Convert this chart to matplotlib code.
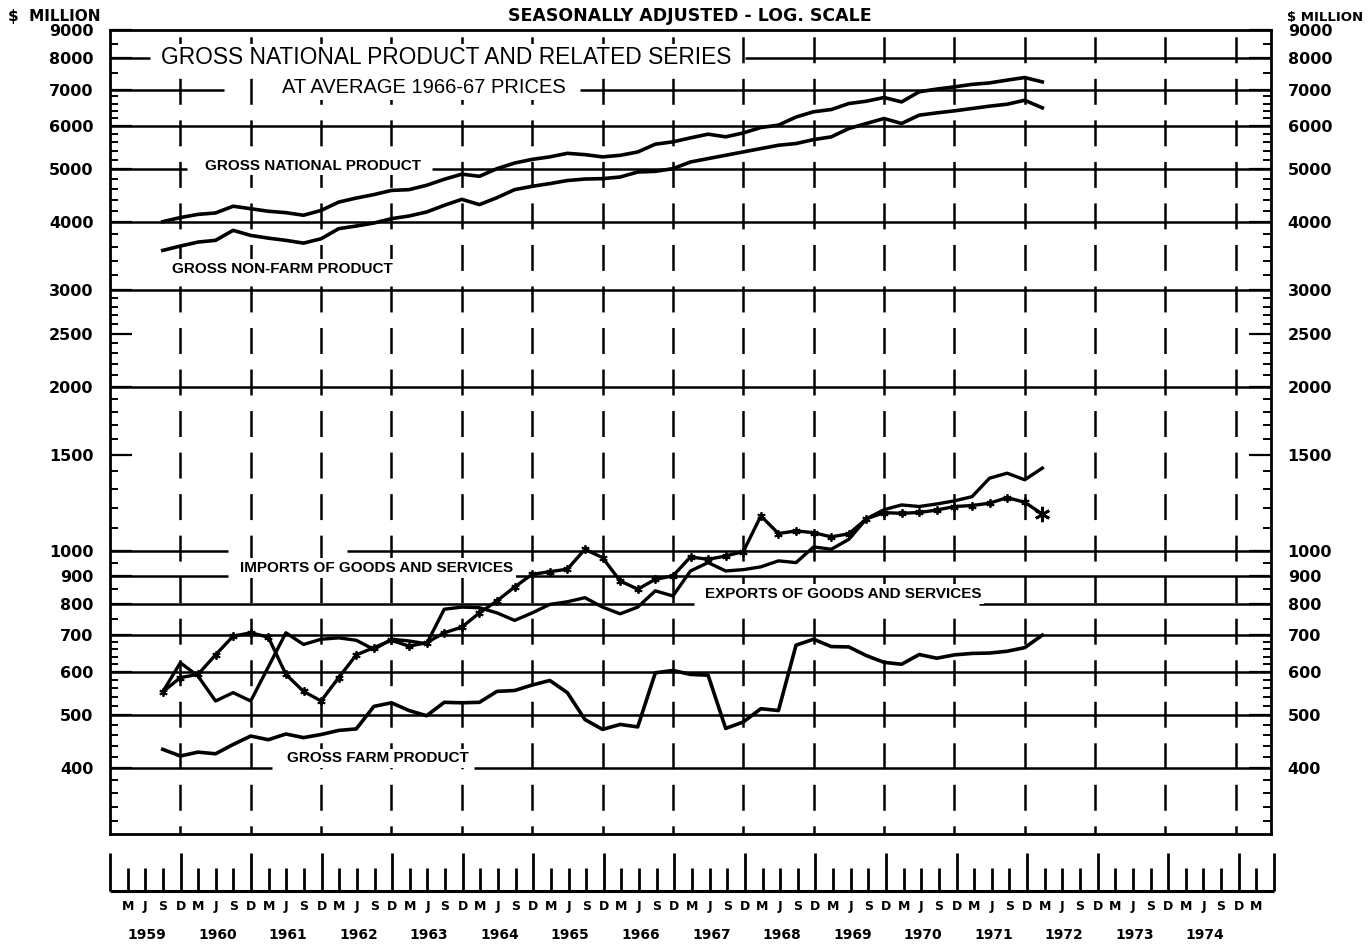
import numpy as np
import matplotlib
matplotlib.use('Agg')
import matplotlib.pyplot as plt

plt.rcParams['lines.scale_dashes'] = False

# quarter index counted from December 1958 (= 0); series run Sep 1959 .. Mar 1972
first_quarter = 3

# $ million, seasonally adjusted, at average 1966-67 prices
gnp = [4010, 4080, 4135, 4160, 4280, 4235, 4190, 4165, 4120, 4205,
       4355, 4430, 4495, 4575, 4590, 4675, 4795, 4900, 4855, 5015,
       5135, 5215, 5270, 5350, 5320, 5270, 5305, 5380, 5560, 5615,
       5710, 5800, 5735, 5830, 5965, 6025, 6235, 6375, 6435, 6600,
       6665, 6770, 6645, 6935, 7015, 7080, 7155, 7200, 7285, 7365, 7230]
non_farm = [3552, 3618, 3679, 3706, 3866, 3784, 3741, 3706, 3663, 3731,
            3893, 3937, 3987, 4061, 4107, 4177, 4296, 4406, 4309, 4437,
            4590, 4655, 4708, 4770, 4800, 4808, 4841, 4944, 4958, 5015,
            5158, 5232, 5306, 5382, 5458, 5535, 5575, 5669, 5734, 5940,
            6067, 6196, 6067, 6284, 6345, 6399, 6463, 6527, 6581, 6692, 6481]
imports = [552, 586, 594, 645, 698, 708, 695, 594, 553, 531,
           586, 645, 665, 686, 669, 679, 708, 725, 770, 810,
           859, 906, 916, 926, 1007, 972, 881, 851, 887, 900,
           975, 965, 979, 997, 1159, 1076, 1088, 1080, 1061, 1075,
           1145, 1175, 1172, 1176, 1188, 1206, 1211, 1223, 1252, 1228, 1168]
exports = [552, 624, 590, 531, 550, 531, 613, 708, 674, 689,
           693, 686, 660, 689, 684, 676, 782, 789, 787, 770,
           746, 770, 798, 807, 821, 789, 767, 789, 845, 827,
           919, 952, 919, 924, 935, 959, 952, 1017, 1007, 1050,
           1145, 1190, 1214, 1206, 1219, 1235, 1257, 1359, 1388, 1350, 1418]
farm = [433, 421, 428, 425, 442, 458, 451, 462, 455, 461,
        469, 472, 519, 527, 510, 499, 528, 527, 528, 553,
        555, 568, 579, 550, 491, 471, 481, 476, 598, 604,
        594, 592, 473, 486, 514, 510, 672, 689, 668, 667,
        643, 625, 620, 646, 636, 645, 649, 650, 655, 665, 701]

years = list(range(1959, 1975))
months = ['M', 'J', 'S', 'D']
labelled_ticks = [400, 500, 600, 700, 800, 900, 1000, 1500, 2000, 2500,
                  3000, 4000, 5000, 6000, 7000, 8000, 9000]
minor_ticks = [320, 340, 360, 380, 420, 440, 460, 480, 520, 540, 560, 580,
               620, 640, 660, 680, 750, 850, 950, 1100, 1200, 1300, 1400,
               1600, 1700, 1800, 1900, 2100, 2200, 2300, 2400,
               2600, 2700, 2800, 2900, 3200, 3400, 3600, 3800,
               4200, 4400, 4600, 4800, 5200, 5400, 5600, 5800,
               6200, 6400, 6600, 6800, 7500, 8500]
# horizontal rulings and the stretches left blank for the captions (in quarters)
rulings = [8000, 7000, 6000, 5000, 4000, 3000, 2000, 1000, 900, 800, 700, 600, 500, 400]
ruling_gaps = {8000: (2.3, 36.1), 7000: (6.5, 26.7), 5000: (4.4, 18.3),
               1000: (6.7, 13.5), 900: (6.7, 22.8), 800: (33.2, 49.4),
               400: (9.2, 20.7)}

W, H = 1369, 944
x_end = 66          # June 1975
y_lo, y_hi = 303, 9000

fig = plt.figure(figsize=(W / 100, H / 100), dpi=100)
ax = fig.add_axes([110 / W, 1 - 834 / H, (1271 - 110) / W, (834 - 30) / H])
ax.set_yscale('log')
ax.set_xlim(0, x_end)
ax.set_ylim(y_lo, y_hi)

for s in ax.spines.values():
    s.set_linewidth(2.0)

q = np.arange(len(gnp)) + first_quarter

# rulings
for v in rulings:
    if v in ruling_gaps:
        a, b = ruling_gaps[v]
        ax.hlines([v, v], [0, b], [a, x_end], color='k', lw=1.8, zorder=1)
    else:
        ax.hlines(v, 0, x_end, color='k', lw=1.8, zorder=1)

# dashed December verticals
for d in range(4, x_end, 4):
    ax.plot([d, d], [y_hi, y_lo], color='k', lw=1.8,
            linestyle=(25, (18.7, 11.2)), zorder=1)

# series
ax.plot(q, gnp, color='k', lw=2.6, zorder=4, solid_joinstyle='round')
ax.plot(q, non_farm, color='k', lw=2.6, zorder=4, solid_joinstyle='round')
ax.plot(q, exports, color='k', lw=2.4, zorder=4, solid_joinstyle='round')
ax.plot(q, imports, color='k', lw=2.4, zorder=4, marker=(6, 2, 0),
        markersize=6, markeredgewidth=1.3, solid_joinstyle='round')
ax.plot(q[-1], imports[-1], color='k', marker=(6, 2, 0), markersize=11,
        markeredgewidth=2, zorder=5)
ax.plot(q, farm, color='k', lw=2.6, zorder=4, solid_joinstyle='round')

# axis ticks
ax.set_yticks(labelled_ticks, labels=[str(v) for v in labelled_ticks])
ax.set_yticks(minor_ticks, minor=True)
ax.set_xticks([])
ax.tick_params(axis='y', which='major', direction='in', length=16, width=1.6,
               left=True, right=True, labelleft=True, labelright=True, pad=12)
ax.tick_params(axis='y', which='minor', direction='in', length=6, width=1.4,
               left=True, right=True, labelleft=False, labelright=False)
for lab in ax.get_yticklabels():
    lab.set_fontfamily('DejaVu Sans')
    lab.set_fontweight('bold')
    lab.set_fontsize(11.5)

box = dict(facecolor='white', edgecolor='none', pad=2)
sans = ['Liberation Sans', 'DejaVu Sans']

ax.text(2.9, 8000, 'GROSS NATIONAL PRODUCT AND RELATED SERIES', family=sans,
        fontsize=16.4, va='center', ha='left', bbox=box, zorder=3)
ax.text(9.8, 7050, 'AT AVERAGE 1966-67 PRICES', family=sans,
        fontsize=14.5, va='center', ha='left', bbox=box, zorder=3)
ax.text(5.4, 5080, 'GROSS NATIONAL PRODUCT', family=sans, fontweight='bold',
        fontsize=11, va='center', ha='left', bbox=box, zorder=3)
ax.text(3.5, 3290, 'GROSS NON-FARM PRODUCT', family=sans, fontweight='bold',
        fontsize=11, va='center', ha='left', bbox=box, zorder=3)
ax.text(7.4, 931, 'IMPORTS OF GOODS AND SERVICES', family=sans, fontweight='bold',
        fontsize=11, va='center', ha='left', bbox=box, zorder=3)
ax.text(33.8, 834, 'EXPORTS OF GOODS AND SERVICES', family=sans, fontweight='bold',
        fontsize=11, va='center', ha='left', bbox=box, zorder=3)
ax.text(10.06, 417, 'GROSS FARM PRODUCT', family=sans, fontweight='bold',
        fontsize=11, va='center', ha='left', bbox=box, zorder=3)

fig.text(690 / W, 1 - 16 / H, 'SEASONALLY ADJUSTED - LOG. SCALE', family='DejaVu Sans',
         fontweight='bold', fontsize=12.5, ha='center', va='center')
fig.text(8 / W, 1 - 17 / H, '$  MILLION', family='DejaVu Sans', fontweight='bold',
         fontsize=11, ha='left', va='center')
fig.text(1287 / W, 1 - 17 / H, '$ MILLION', family='DejaVu Sans', fontweight='bold',
         fontsize=9.5, ha='left', va='center')

# time scale strip below the chart
tx = fig.add_axes([110 / W, 1 - 891 / H, (1274 - 110) / W, 38 / H])
tx.set_xlim(0, x_end)
tx.set_ylim(0, 1)
tx.axis('off')
quarters = np.arange(0, x_end + 1)
tall = (quarters % 4 == 0) | (quarters == x_end)
tx.hlines(0, 0, x_end, color='k', lw=2.2, clip_on=False)
tx.vlines(quarters, 0, np.where(tall, 1.0, 0.6), color='k', lw=2.0, clip_on=False)

for i in range(1, x_end):
    tx.text(i, -0.42, months[(i - 1) % 4], family='DejaVu Sans', fontweight='bold',
            fontsize=9, ha='center', va='center')
for k, yr in enumerate(years):
    tx.text(4 * k + 2.1, -1.15, str(yr), family='DejaVu Sans', fontweight='bold',
            fontsize=10, ha='center', va='center')

fig.savefig('out.png', dpi=100)
